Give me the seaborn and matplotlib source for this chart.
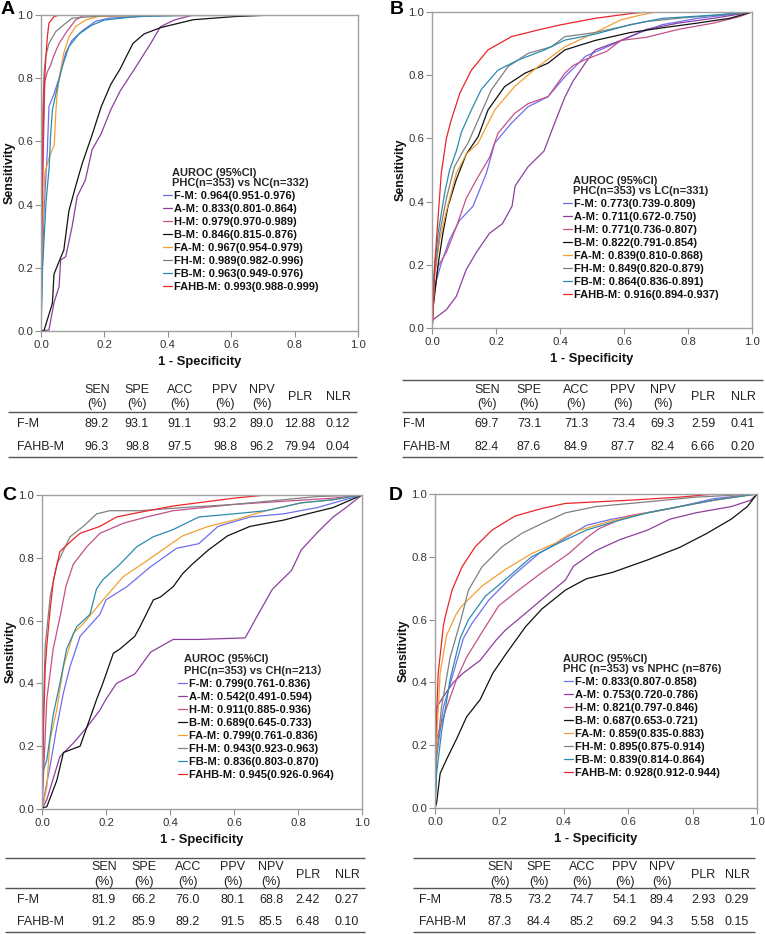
import numpy as np
import pandas as pd
import matplotlib
matplotlib.use("Agg")
import matplotlib.pyplot as plt
import seaborn as sns
from matplotlib.lines import Line2D
from matplotlib.font_manager import FontProperties
from matplotlib.ticker import FormatStrFormatter

# ---------------- data ----------------
MODELS = ["F-M", "A-M", "H-M", "B-M", "FA-M", "FH-M", "FB-M", "FAHB-M"]
COLORS = {"F-M": "#6e6ef0", "A-M": "#8e3f9e", "H-M": "#c4508c", "B-M": "#111111",
          "FA-M": "#f2a033", "FH-M": "#808080", "FB-M": "#2b8cae", "FAHB-M": "#e8262a"}

# Panel A: PHC vs NC  (fpr list, tpr list)
ROC_A = {
    "F-M": ([0, 0.004, 0.01, 0.02, 0.025, 0.041, 0.057, 0.078, 0.098, 0.13, 0.172, 0.214, 0.35, 0.46, 1],
            [0, 0.2, 0.39, 0.57, 0.71, 0.75, 0.80, 0.88, 0.92, 0.95, 0.98, 0.99, 0.997, 1, 1]),
    "A-M": ([0, 0.025, 0.041, 0.057, 0.062, 0.078, 0.098, 0.114, 0.14, 0.161, 0.19, 0.22, 0.25, 0.293, 0.346, 0.377, 0.42, 0.48, 1],
            [0, 0.003, 0.09, 0.14, 0.225, 0.235, 0.33, 0.425, 0.478, 0.573, 0.625, 0.70, 0.76, 0.826, 0.91, 0.963, 0.984, 1.0, 1]),
    "H-M": ([0, 0.003, 0.008, 0.012, 0.02, 0.03, 0.04, 0.057, 0.083, 0.109, 0.13, 0.2, 1],
            [0, 0.3, 0.6, 0.79, 0.82, 0.84, 0.87, 0.91, 0.95, 0.984, 0.997, 1, 1]),
    "B-M": ([0, 0.01, 0.036, 0.041, 0.057, 0.072, 0.088, 0.109, 0.13, 0.161, 0.19, 0.22, 0.25, 0.29, 0.325, 0.377, 0.48, 0.61, 0.73, 1],
            [0, 0.003, 0.088, 0.18, 0.22, 0.256, 0.38, 0.457, 0.53, 0.62, 0.71, 0.78, 0.83, 0.91, 0.94, 0.96, 0.985, 0.995, 1, 1]),
    "FA-M": ([0, 0.004, 0.012, 0.026, 0.042, 0.046, 0.05, 0.057, 0.072, 0.088, 0.109, 0.14, 0.18, 0.3, 0.4, 1],
             [0, 0.3, 0.5, 0.55, 0.59, 0.68, 0.74, 0.80, 0.88, 0.93, 0.963, 0.984, 0.995, 0.998, 1, 1]),
    "FH-M": ([0, 0.003, 0.006, 0.0094, 0.015, 0.025, 0.046, 0.078, 0.098, 0.19, 0.73, 1],
             [0, 0.4, 0.7, 0.815, 0.87, 0.91, 0.947, 0.974, 0.99, 0.997, 0.999, 1]),
    "FB-M": ([0, 0.005, 0.016, 0.026, 0.03, 0.036, 0.051, 0.067, 0.088, 0.12, 0.161, 0.2, 0.3, 0.5, 1],
             [0, 0.2, 0.41, 0.52, 0.615, 0.70, 0.77, 0.836, 0.90, 0.94, 0.968, 0.984, 0.995, 1, 1]),
    "FAHB-M": ([0, 0.002, 0.005, 0.0094, 0.015, 0.02, 0.025, 0.041, 0.06, 1],
               [0, 0.3, 0.55, 0.75, 0.86, 0.93, 0.974, 0.995, 1, 1]),
}
# Panel B: PHC vs LC
ROC_B = {
    "F-M": ([0, 0.003, 0.008, 0.029, 0.055, 0.086, 0.128, 0.17, 0.196, 0.248, 0.3, 0.3625, 0.415, 0.48, 0.57, 0.65, 0.72, 0.83, 1],
            [0, 0.08, 0.13, 0.205, 0.28, 0.34, 0.385, 0.49, 0.585, 0.648, 0.70, 0.732, 0.795, 0.86, 0.9, 0.935, 0.96, 0.98, 1]),
    "A-M": ([0, 0.003, 0.045, 0.076, 0.107, 0.139, 0.18, 0.22, 0.25, 0.26, 0.3, 0.35, 0.38, 0.415, 0.44, 0.48, 0.51, 0.59, 0.67, 0.77, 0.88, 1],
            [0, 0.026, 0.058, 0.1, 0.185, 0.24, 0.3, 0.33, 0.385, 0.45, 0.51, 0.56, 0.64, 0.73, 0.78, 0.84, 0.88, 0.91, 0.945, 0.965, 0.98, 1]),
    "H-M": ([0, 0.003, 0.019, 0.045, 0.076, 0.107, 0.139, 0.18, 0.206, 0.258, 0.3, 0.3625, 0.415, 0.44, 0.48, 0.545, 0.59, 0.67, 0.77, 0.88, 0.96, 1],
            [0, 0.07, 0.195, 0.24, 0.32, 0.41, 0.47, 0.54, 0.616, 0.679, 0.71, 0.732, 0.806, 0.83, 0.85, 0.875, 0.91, 0.92, 0.945, 0.965, 0.985, 1]),
    "B-M": ([0, 0.003, 0.019, 0.034, 0.05, 0.076, 0.107, 0.144, 0.175, 0.227, 0.29, 0.3625, 0.415, 0.51, 0.62, 0.72, 0.83, 0.93, 1],
            [0, 0.06, 0.2, 0.3, 0.385, 0.47, 0.55, 0.605, 0.69, 0.764, 0.806, 0.838, 0.88, 0.91, 0.935, 0.95, 0.965, 0.98, 1]),
    "FA-M": ([0, 0.008, 0.024, 0.045, 0.076, 0.107, 0.144, 0.196, 0.258, 0.331, 0.415, 0.51, 0.59, 0.65, 0.7, 1],
             [0, 0.16, 0.28, 0.37, 0.49, 0.55, 0.585, 0.69, 0.764, 0.827, 0.89, 0.935, 0.975, 0.99, 1, 1]),
    "FH-M": ([0, 0.008, 0.024, 0.045, 0.07, 0.097, 0.1125, 0.144, 0.185, 0.2375, 0.3, 0.373, 0.415, 0.51, 0.6, 0.67, 0.77, 1],
             [0, 0.17, 0.3, 0.41, 0.51, 0.56, 0.585, 0.658, 0.753, 0.827, 0.869, 0.89, 0.922, 0.935, 0.955, 0.97, 0.98, 1]),
    "FB-M": ([0, 0.003, 0.019, 0.04, 0.055, 0.076, 0.092, 0.123, 0.154, 0.206, 0.269, 0.352, 0.415, 0.51, 0.62, 0.72, 0.88, 1],
             [0, 0.14, 0.3, 0.43, 0.5, 0.56, 0.62, 0.69, 0.755, 0.816, 0.848, 0.88, 0.911, 0.93, 0.96, 0.98, 0.99, 1]),
    "FAHB-M": ([0, 0.003, 0.008, 0.019, 0.029, 0.045, 0.06, 0.087, 0.123, 0.175, 0.248, 0.331, 0.40, 0.51, 0.62, 0.67, 1],
               [0, 0.03, 0.195, 0.35, 0.49, 0.6, 0.658, 0.743, 0.816, 0.88, 0.922, 0.943, 0.959, 0.98, 0.995, 1, 1]),
}
# Panel C: PHC vs CH
ROC_C = {
    "F-M": ([0, 0.005, 0.025, 0.046, 0.067, 0.0875, 0.119, 0.181, 0.2, 0.265, 0.3375, 0.42, 0.49, 0.55, 0.65, 0.755, 0.86, 1],
            [0, 0.03, 0.135, 0.26, 0.37, 0.453, 0.55, 0.62, 0.666, 0.708, 0.77, 0.83, 0.845, 0.9, 0.93, 0.94, 0.96, 1]),
    "A-M": ([0, 0.015, 0.056, 0.098, 0.14, 0.181, 0.2, 0.233, 0.29, 0.34, 0.41, 0.49, 0.635, 0.67, 0.72, 0.78, 0.81, 0.86, 0.91, 0.95, 1],
            [0, 0.03, 0.167, 0.21, 0.26, 0.315, 0.35, 0.40, 0.43, 0.5, 0.54, 0.54, 0.545, 0.61, 0.7, 0.76, 0.825, 0.88, 0.93, 0.96, 1]),
    "H-M": ([0, 0.005, 0.015, 0.035, 0.056, 0.075, 0.098, 0.14, 0.181, 0.254, 0.327, 0.41, 0.6, 0.755, 0.91, 1],
            [0, 0.115, 0.35, 0.51, 0.61, 0.71, 0.78, 0.835, 0.878, 0.91, 0.93, 0.95, 0.97, 0.98, 0.99, 1]),
    "B-M": ([0, 0.005, 0.015, 0.046, 0.067, 0.119, 0.14, 0.171, 0.19, 0.223, 0.244, 0.29, 0.306, 0.348, 0.37, 0.41, 0.44, 0.47, 0.52, 0.58, 0.65, 0.755, 0.83, 0.91, 1],
            [0, 0.005, 0.007, 0.09, 0.18, 0.20, 0.26, 0.35, 0.40, 0.496, 0.51, 0.55, 0.58, 0.666, 0.675, 0.708, 0.75, 0.78, 0.825, 0.87, 0.9, 0.92, 0.94, 0.96, 1]),
    "FA-M": ([0, 0.005, 0.015, 0.025, 0.046, 0.067, 0.098, 0.129, 0.19, 0.254, 0.327, 0.39, 0.44, 0.52, 0.6, 0.7, 0.81, 0.91, 1],
             [0, 0.02, 0.07, 0.22, 0.315, 0.453, 0.56, 0.59, 0.665, 0.74, 0.79, 0.835, 0.87, 0.9, 0.92, 0.95, 0.975, 0.985, 1]),
    "FH-M": ([0, 0.003, 0.005, 0.01, 0.026, 0.047, 0.056, 0.0875, 0.129, 0.171, 0.2125, 0.306, 0.44, 0.6, 0.755, 0.86, 1],
             [0, 0.2, 0.33, 0.52, 0.68, 0.78, 0.80, 0.867, 0.90, 0.94, 0.95, 0.95, 0.96, 0.97, 0.985, 0.995, 1]),
    "FB-M": ([0, 0.003, 0.015, 0.035, 0.056, 0.077, 0.108, 0.15, 0.17, 0.19, 0.244, 0.296, 0.348, 0.41, 0.49, 0.6, 0.7, 0.81, 0.91, 1],
             [0, 0.12, 0.156, 0.30, 0.40, 0.51, 0.58, 0.62, 0.70, 0.73, 0.78, 0.835, 0.867, 0.89, 0.93, 0.94, 0.95, 0.975, 0.985, 1]),
    "FAHB-M": ([0, 0.003, 0.005, 0.01, 0.015, 0.025, 0.036, 0.056, 0.0875, 0.119, 0.181, 0.233, 0.306, 0.41, 0.6, 0.7, 1],
               [0, 0.15, 0.27, 0.45, 0.52, 0.63, 0.73, 0.82, 0.85, 0.878, 0.90, 0.93, 0.945, 0.965, 0.99, 1, 1]),
}
# Panel D: PHC vs NPHC
ROC_D = {
    "F-M": ([0, 0.005, 0.026, 0.057, 0.088, 0.115, 0.167, 0.239, 0.322, 0.394, 0.47, 0.55, 0.66, 0.76, 0.865, 1],
            [0, 0.165, 0.32, 0.43, 0.54, 0.588, 0.662, 0.737, 0.81, 0.853, 0.9, 0.92, 0.94, 0.96, 0.985, 1]),
    "A-M": ([0, 0.005, 0.026, 0.057, 0.088, 0.14, 0.19, 0.219, 0.281, 0.343, 0.405, 0.43, 0.5, 0.575, 0.66, 0.73, 0.81, 0.92, 0.98, 1],
            [0, 0.32, 0.355, 0.4, 0.43, 0.47, 0.535, 0.567, 0.62, 0.674, 0.726, 0.77, 0.82, 0.855, 0.885, 0.92, 0.94, 0.96, 0.98, 1]),
    "H-M": ([0, 0.005, 0.036, 0.067, 0.098, 0.146, 0.198, 0.26, 0.332, 0.415, 0.47, 0.51, 0.6, 0.71, 0.81, 0.92, 1],
            [0, 0.22, 0.32, 0.41, 0.48, 0.56, 0.644, 0.694, 0.75, 0.81, 0.86, 0.89, 0.93, 0.95, 0.97, 0.99, 1]),
    "B-M": ([0, 0.005, 0.016, 0.036, 0.067, 0.098, 0.14, 0.18, 0.22, 0.281, 0.332, 0.405, 0.47, 0.55, 0.66, 0.76, 0.845, 0.92, 0.97, 1],
            [0, 0.016, 0.11, 0.155, 0.22, 0.29, 0.345, 0.43, 0.49, 0.577, 0.634, 0.694, 0.73, 0.75, 0.79, 0.83, 0.875, 0.92, 0.96, 1]),
    "FA-M": ([0, 0.005, 0.016, 0.036, 0.067, 0.084, 0.146, 0.219, 0.30, 0.373, 0.415, 0.45, 0.55, 0.66, 0.76, 0.865, 1],
             [0, 0.22, 0.43, 0.55, 0.62, 0.644, 0.707, 0.76, 0.81, 0.843, 0.87, 0.885, 0.915, 0.94, 0.96, 0.98, 1]),
    "FH-M": ([0, 0.005, 0.02, 0.047, 0.078, 0.104, 0.146, 0.208, 0.27, 0.332, 0.405, 0.5, 0.66, 0.81, 1],
             [0, 0.165, 0.32, 0.48, 0.59, 0.694, 0.768, 0.832, 0.875, 0.906, 0.94, 0.96, 0.975, 0.99, 1]),
    "FB-M": ([0, 0.005, 0.02, 0.047, 0.078, 0.104, 0.156, 0.229, 0.30, 0.383, 0.47, 0.55, 0.66, 0.76, 0.865, 1],
             [0, 0.11, 0.24, 0.41, 0.54, 0.60, 0.674, 0.737, 0.80, 0.843, 0.885, 0.91, 0.94, 0.96, 0.98, 1]),
    "FAHB-M": ([0, 0.002, 0.01, 0.026, 0.032, 0.053, 0.084, 0.125, 0.177, 0.249, 0.332, 0.405, 0.6, 0.76, 0.87, 1],
               [0, 0.22, 0.43, 0.58, 0.61, 0.694, 0.768, 0.832, 0.885, 0.93, 0.954, 0.97, 0.98, 0.99, 1, 1]),
}

AUC_A = ["0.964(0.951-0.976)", "0.833(0.801-0.864)", "0.979(0.970-0.989)", "0.846(0.815-0.876)",
         "0.967(0.954-0.979)", "0.989(0.982-0.996)", "0.963(0.949-0.976)", "0.993(0.988-0.999)"]
AUC_B = ["0.773(0.739-0.809)", "0.711(0.672-0.750)", "0.771(0.736-0.807)", "0.822(0.791-0.854)",
         "0.839(0.810-0.868)", "0.849(0.820-0.879)", "0.864(0.836-0.891)", "0.916(0.894-0.937)"]
AUC_C = ["0.799(0.761-0.836)", "0.542(0.491-0.594)", "0.911(0.885-0.936)", "0.689(0.645-0.733)",
         "0.799(0.761-0.836)", "0.943(0.923-0.963)", "0.836(0.803-0.870)", "0.945(0.926-0.964)"]
AUC_D = ["0.833(0.807-0.858)", "0.753(0.720-0.786)", "0.821(0.797-0.846)", "0.687(0.653-0.721)",
         "0.859(0.835-0.883)", "0.895(0.875-0.914)", "0.839(0.814-0.864)", "0.928(0.912-0.944)"]

TITLE_A = "AUROC (95%CI)\nPHC(n=353) vs NC(n=332)"
TITLE_B = "AUROC (95%CI)\nPHC(n=353) vs LC(n=331)"
TITLE_C = "AUROC (95%CI)\nPHC(n=353) vs CH(n=213）"
TITLE_D = "AUROC (95%CI)\nPHC (n=353) vs NPHC (n=876)"

TABLE_HEAD = ["SEN", "SPE", "ACC", "PPV", "NPV", "PLR", "NLR"]
TABLE_ROWS = ["F-M", "FAHB-M"]
TAB_A_FM = ["89.2", "93.1", "91.1", "93.2", "89.0", "12.88", "0.12"]
TAB_A_FAHB = ["96.3", "98.8", "97.5", "98.8", "96.2", "79.94", "0.04"]
TAB_B_FM = ["69.7", "73.1", "71.3", "73.4", "69.3", "2.59", "0.41"]
TAB_B_FAHB = ["82.4", "87.6", "84.9", "87.7", "82.4", "6.66", "0.20"]
TAB_C_FM = ["81.9", "66.2", "76.0", "80.1", "68.8", "2.42", "0.27"]
TAB_C_FAHB = ["91.2", "85.9", "89.2", "91.5", "85.5", "6.48", "0.10"]
TAB_D_FM = ["78.5", "73.2", "74.7", "54.1", "89.4", "2.93", "0.29"]
TAB_D_FAHB = ["87.3", "84.4", "85.2", "69.2", "94.3", "5.58", "0.15"]

# ---------------- style ----------------
sns.set_theme(style="white")
FAM = ["Liberation Sans", "Noto Sans CJK SC", "DejaVu Sans"]
plt.rcParams["font.family"] = FAM
W, H = 765, 934
fig = plt.figure(figsize=(W / 100, H / 100), dpi=100)
fig.patch.set_facecolor("white")


def add_ax(left, right, top, bottom):
    return fig.add_axes([left / W, (H - bottom) / H, (right - left) / W, (bottom - top) / H])


def roc_panel(ax, roc, aucs, title, box, leg_px):
    rows = []
    for m in MODELS:
        fpr, tpr = roc[m]
        for i, (x, y) in enumerate(zip(fpr, tpr)):
            rows.append({"model": m, "fpr": x, "tpr": y, "step": i})
    df = pd.DataFrame(rows)
    sns.lineplot(data=df, x="fpr", y="tpr", hue="model", hue_order=MODELS, palette=COLORS,
                 sort=False, estimator=None, legend=False, linewidth=0.9, ax=ax)
    ax.set_xlim(0, 1)
    ax.set_ylim(0, 1)
    ticks = np.arange(0, 1.01, 0.2)
    ax.set_xticks(ticks)
    ax.set_yticks(ticks)
    ax.xaxis.set_major_formatter(FormatStrFormatter("%.1f"))
    ax.yaxis.set_major_formatter(FormatStrFormatter("%.1f"))
    ax.tick_params(axis="both", which="major", direction="out", length=4, width=0.8,
                   color="#909090", labelsize=8.2, labelcolor="#333333", pad=2.5,
                   bottom=True, left=True)
    ax.tick_params(axis="y", pad=1.5)
    for s in ax.spines.values():
        s.set_color("#a0a0a0")
        s.set_linewidth(1.0)
    ax.set_xlabel("1 - Specificity", fontsize=9.4, fontweight="bold", labelpad=4, color="#111111")
    ax.set_ylabel("Sensitivity", fontsize=9, fontweight="bold", labelpad=1.5, color="#111111")
    handles = [Line2D([], [], color=COLORS[m], lw=0.9) for m in MODELS]
    labels = [f"{m}: {a}" for m, a in zip(MODELS, aucs)]
    left, right, top, bottom = box
    hx, ty = leg_px
    fx = (hx - left) / (right - left)
    fy = (bottom - ty) / (bottom - top)
    leg = ax.legend(handles, labels, title=title, loc="upper left", bbox_to_anchor=(fx, fy),
                    frameon=False, borderpad=0, handlelength=0.8, handletextpad=0.15,
                    labelspacing=0.27, borderaxespad=0,
                    prop=FontProperties(family=FAM, weight="bold", size=8),
                    title_fontproperties=FontProperties(family=FAM, weight="bold", size=8))
    leg.get_title().set_linespacing(1.0)
    for t in leg.get_texts():
        t.set_color("#111111")


BOX_A = (41, 358, 15, 331)
BOX_B = (432, 752, 12, 328)
BOX_C = (42, 362, 495, 809)
BOX_D = (435, 757, 494, 808)

axA = add_ax(*BOX_A)
roc_panel(axA, ROC_A, AUC_A, TITLE_A, BOX_A, (163, 168))
axB = add_ax(*BOX_B)
roc_panel(axB, ROC_B, AUC_B, TITLE_B, BOX_B, (563, 176))
axC = add_ax(*BOX_C)
roc_panel(axC, ROC_C, AUC_C, TITLE_C, BOX_C, (178, 654))
axD = add_ax(*BOX_D)
roc_panel(axD, ROC_D, AUC_D, TITLE_D, BOX_D, (563, 654))

# ---------------- overlay for tables and panel letters ----------------
ov = fig.add_axes([0, 0, 1, 1])
ov.set_xlim(0, W)
ov.set_ylim(H, 0)
ov.axis("off")

for letter, (x, y) in zip("ABCD", [(1, 9), (390, 9), (2, 495), (389, 495)]):
    ov.text(x, y, letter, fontsize=14, fontweight="bold", ha="left", va="center", color="#000000")

TXT = "#222222"


def draw_table(cols, label_x, y_h1, y_h2, y_r1, y_r2, lines, xr, fm, fahb):
    for i, (h, cx) in enumerate(zip(TABLE_HEAD, cols)):
        if h in ("PLR", "NLR"):
            ov.text(cx, (y_h1 + y_h2) / 2, h, fontsize=9, ha="center", va="center", color=TXT)
        else:
            ov.text(cx, y_h1, h, fontsize=9, ha="center", va="center", color=TXT)
            ov.text(cx, y_h2, "(%)", fontsize=9, ha="center", va="center", color=TXT)
    for y, name, vals in [(y_r1, TABLE_ROWS[0], fm), (y_r2, TABLE_ROWS[1], fahb)]:
        ov.text(label_x, y, name, fontsize=9, ha="left", va="center", color=TXT)
        for v, cx in zip(vals, cols):
            ov.text(cx, y, v, fontsize=9, ha="center", va="center", color=TXT)
    for ly in lines:
        ov.plot([xr[0], xr[1]], [ly, ly], color="#555555", lw=1.0, solid_capstyle="butt")


draw_table([97, 137, 180, 225, 262, 300, 338], 17, 390, 404, 424, 447, [412, 457], (8, 357),
           TAB_A_FM, TAB_A_FAHB)
draw_table([487, 529, 576, 623, 663, 703, 743], 403, 390, 404, 424, 447, [380, 412, 457], (402, 763),
           TAB_B_FM, TAB_B_FAHB)
draw_table([104, 144, 188, 233, 271, 308, 347], 17, 867, 882, 900, 922, [858, 888, 932], (5, 365),
           TAB_C_FM, TAB_C_FAHB)
draw_table([500, 539, 582, 625, 662, 703, 737], 419, 867, 882, 900, 922, [858, 888, 932], (413, 755),
           TAB_D_FM, TAB_D_FAHB)

fig.savefig("out.png", dpi=100, facecolor="white")
